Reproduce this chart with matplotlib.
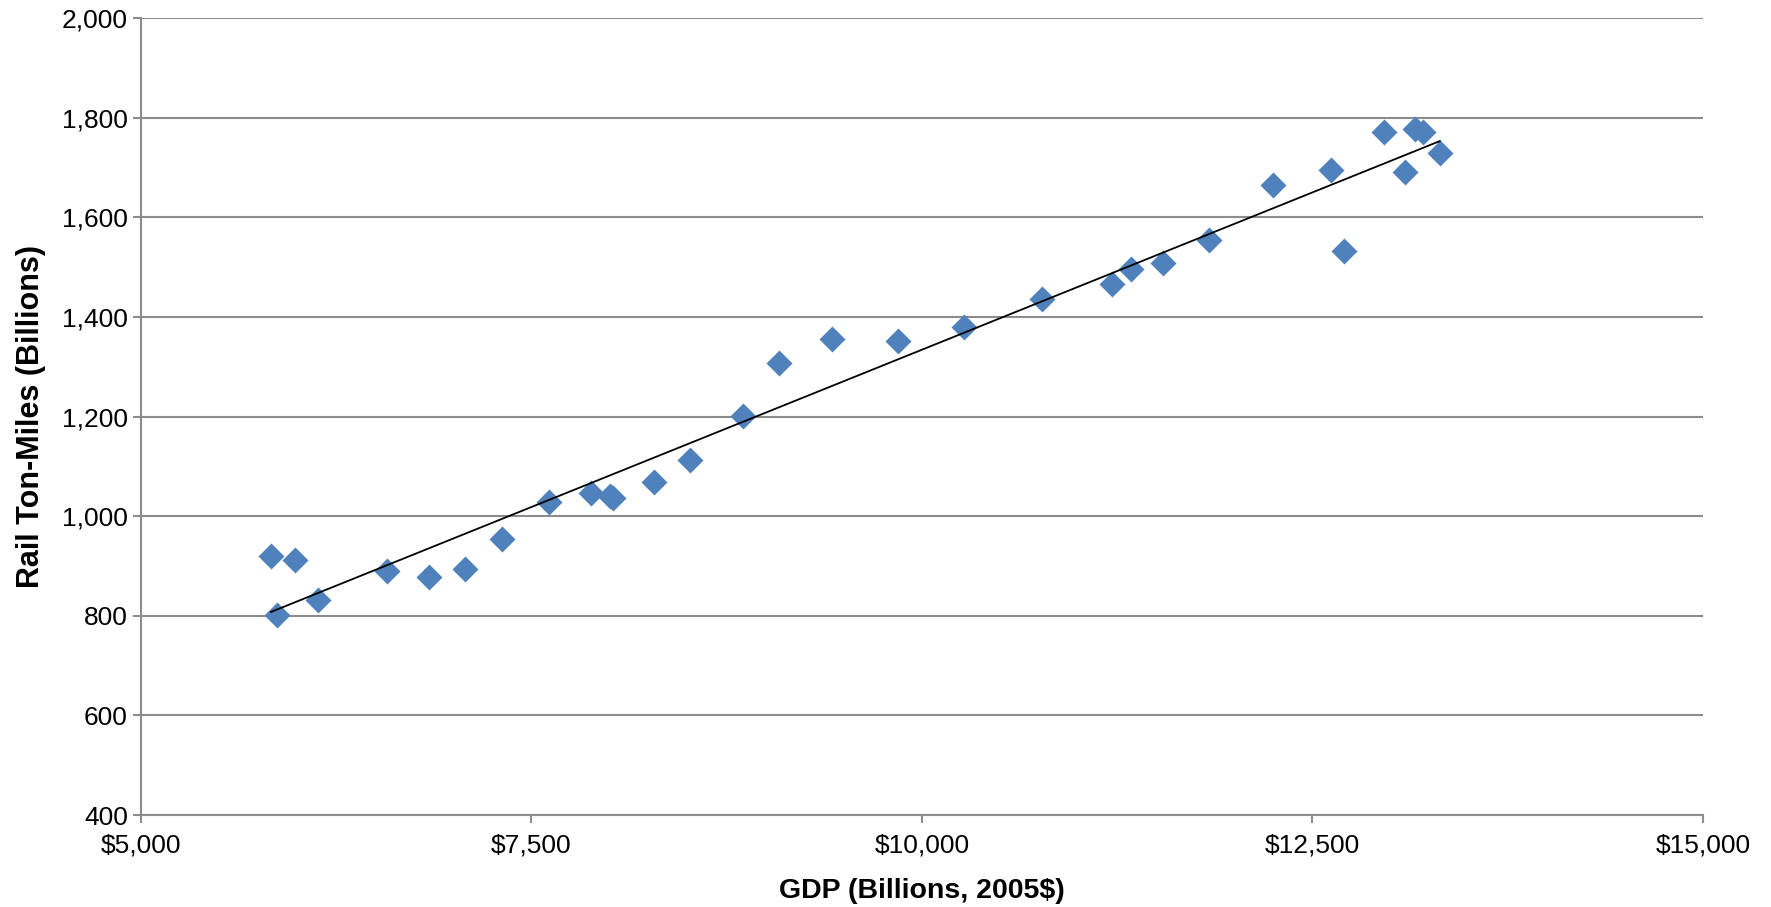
import numpy as np
import matplotlib.pyplot as plt
from matplotlib.ticker import FuncFormatter

plt.rcParams['font.family'] = ['Liberation Sans', 'DejaVu Sans']

# GDP (billions, 2005$) and rail ton-miles (billions)
gdp = [5832, 5868, 5983, 6135, 6576, 6844, 7075, 7314, 7610, 7878, 8001, 8022,
       8283, 8514, 8854, 9085, 9425, 9845, 10271, 10770, 11218, 11341, 11544,
       11840, 12245, 12621, 12701, 12961, 13091, 13156, 13207, 13315]
ton_miles = [921, 801, 912, 831, 890, 878, 894, 955, 1028, 1046, 1041, 1037,
             1069, 1112, 1202, 1307, 1356, 1352, 1379, 1436, 1467, 1497, 1508,
             1554, 1665, 1696, 1533, 1771, 1692, 1778, 1771, 1730]

x_ticks = [5000, 7500, 10000, 12500, 15000]
y_ticks = [400, 600, 800, 1000, 1200, 1400, 1600, 1800, 2000]

fig = plt.figure(figsize=(17.71, 9.07), dpi=100)
ax = fig.add_axes([0.0796, 0.1014, 0.8820, 0.8786])

ax.scatter(gdp, ton_miles, marker='D', s=175, color='#4F81BD', zorder=3,
           linewidths=0)

# linear trendline
k, b = np.polyfit(gdp, ton_miles, 1)
xs = np.array([min(gdp), max(gdp)])
ax.plot(xs, k * xs + b, color='black', linewidth=1.3, zorder=4)

ax.set_xlim(5000, 15000)
ax.set_ylim(400, 2000)
ax.set_xticks(x_ticks)
ax.set_yticks(y_ticks)
ax.xaxis.set_major_formatter(FuncFormatter(lambda v, p: f'${v:,.0f}'))
ax.yaxis.set_major_formatter(FuncFormatter(lambda v, p: f'{v:,.0f}'))

ax.grid(axis='y', color='#8c8c8c', linewidth=1.5, zorder=0)
ax.set_axisbelow(True)
for side in ['top', 'right']:
    ax.spines[side].set_visible(False)
for side in ['left', 'bottom']:
    ax.spines[side].set_color('#8c8c8c')
    ax.spines[side].set_linewidth(1.5)

ax.tick_params(axis='both', colors='#8c8c8c', labelcolor='black',
               labelsize=19, length=6, width=1.5, direction='out')
ax.tick_params(axis='x', pad=7)

ax.set_xlabel('GDP (Billions, 2005$)', fontsize=20.5, fontweight='bold', labelpad=15)
ax.set_ylabel('Rail Ton-Miles (Billions)', fontsize=22, fontweight='bold', labelpad=11)

fig.savefig('out.png', dpi=100)
